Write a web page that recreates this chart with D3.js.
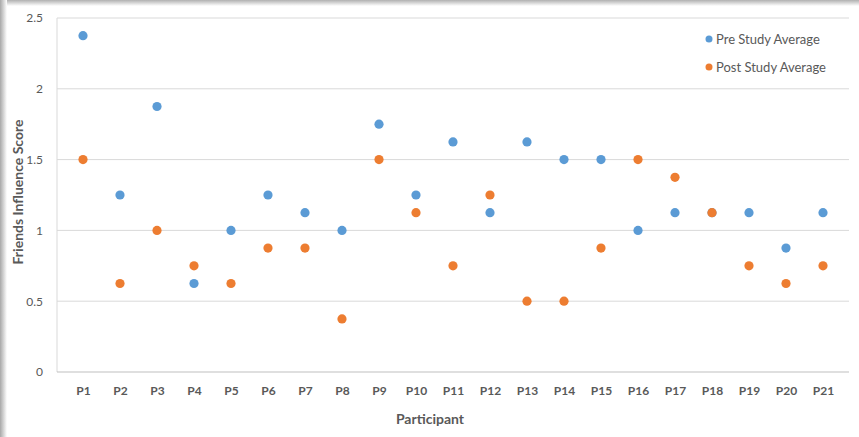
<!DOCTYPE html>
<html><head><meta charset="utf-8">
<script src="https://cdn.jsdelivr.net/npm/d3@7"></script>
<style>body{margin:0;background:#fff}svg{display:block}</style>
</head><body>
<svg id="c" width="859" height="437"></svg>
<script>
const participants = ["P1","P2","P3","P4","P5","P6","P7","P8","P9","P10","P11","P12","P13","P14","P15","P16","P17","P18","P19","P20","P21"];
const preStudy  = [2.375,1.25,1.875,0.625,1.0,1.25,1.125,1.0,1.75,1.25,1.625,1.125,1.625,1.5,1.5,1.0,1.125,1.125,1.125,0.875,1.125];
const postStudy = [1.5,0.625,1.0,0.75,0.625,0.875,0.875,0.375,1.5,1.125,0.75,1.25,0.5,0.5,0.875,1.5,1.375,1.125,0.75,0.625,0.75];
const yTicks = [0,0.5,1,1.5,2,2.5];
const seriesNames = ["Pre Study Average","Post Study Average"];
const colors = ["#5B9BD5","#ED7D31"];

(function(){
const svg = d3.select("#c");
const defs = svg.append("defs");
const gl = defs.append("linearGradient").attr("id","gl").attr("x1",0).attr("x2",1);
gl.append("stop").attr("offset",0).attr("stop-color","#a8a8a8");
gl.append("stop").attr("offset",1).attr("stop-color","#ffffff");
const gt = defs.append("linearGradient").attr("id","gt").attr("x1",0).attr("x2",0).attr("y1",0).attr("y2",1);
gt.append("stop").attr("offset",0).attr("stop-color","#b0b0b0");
gt.append("stop").attr("offset",1).attr("stop-color","#ffffff");
svg.append("rect").attr("x",0).attr("y",0).attr("width",859).attr("height",6).attr("fill","url(#gt)");
svg.append("rect").attr("x",0).attr("y",0).attr("width",7).attr("height",437).attr("fill","url(#gl)");

const mL = 57, mR = 849, mT = 18, mB = 372;
const x = d3.scalePoint().domain(participants).range([83, 823]);
const y = d3.scaleLinear().domain([0,2.5]).range([mB, mT]);
const font = "Lato, 'Open Sans', sans-serif";

svg.append("g").selectAll("line").data(yTicks.filter(d=>d>0)).join("line")
  .attr("x1",mL).attr("x2",mR).attr("y1",d=>y(d)).attr("y2",d=>y(d))
  .attr("stroke","#d9d9d9").attr("stroke-width",1);
svg.append("line").attr("x1",mL).attr("x2",mL).attr("y1",mT).attr("y2",mB).attr("stroke","#d9d9d9");
svg.append("line").attr("x1",mL).attr("x2",mR).attr("y1",mB).attr("y2",mB).attr("stroke","#bfbfbf");

const yAxis = d3.axisLeft(y).tickValues(yTicks).tickSize(0).tickPadding(14).tickFormat(d3.format("~g"));
const ya = svg.append("g").attr("transform",`translate(${mL},0)`).call(yAxis);
ya.select(".domain").remove();
ya.selectAll("text").attr("font-family",font).attr("font-size",12).attr("fill","#595959");

const xAxis = d3.axisBottom(x).tickSize(0).tickPadding(14);
const xa = svg.append("g").attr("transform",`translate(0,${mB})`).call(xAxis);
xa.select(".domain").remove();
xa.selectAll("text").attr("font-family",font).attr("font-size",12).attr("font-weight","bold").attr("fill","#595959");

[preStudy, postStudy].forEach((vals,i)=>{
  svg.append("g").selectAll("circle").data(vals).join("circle")
    .attr("cx",(d,j)=>x(participants[j])).attr("cy",d=>y(d)).attr("r",4.6)
    .attr("fill",colors[i]);
});

svg.append("text").attr("x",430).attr("y",424).attr("text-anchor","middle")
  .attr("font-family",font).attr("font-size",14).attr("font-weight","bold").attr("fill","#595959")
  .text("Participant");
svg.append("text").attr("transform","translate(23,192) rotate(-90)").attr("text-anchor","middle")
  .attr("font-family",font).attr("font-size",14).attr("font-weight","bold").attr("fill","#595959")
  .text("Friends Influence Score");

const lg = svg.append("g").selectAll("g").data(seriesNames).join("g")
  .attr("transform",(d,i)=>`translate(709,${39+i*28})`);
lg.append("circle").attr("r",3.5).attr("fill",(d,i)=>colors[i]);
lg.append("text").attr("x",7).attr("dy","0.35em")
  .attr("font-family",font).attr("font-size",13).attr("fill","#595959").text(d=>d);
})();
</script>
</body></html>
